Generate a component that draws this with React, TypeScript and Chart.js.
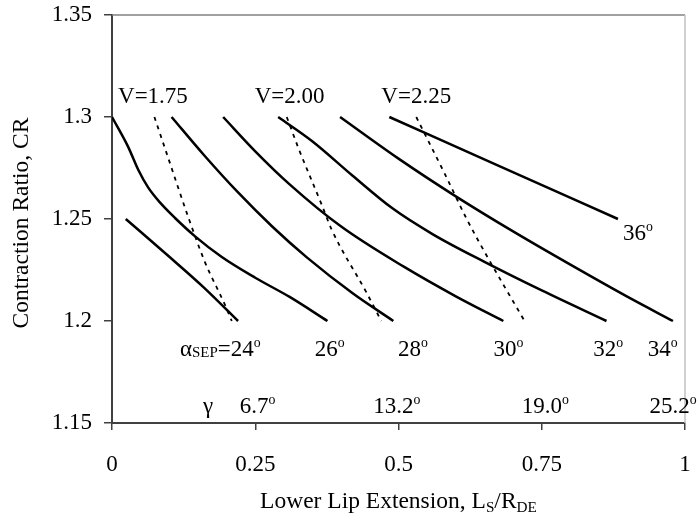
import React, { useEffect, useRef } from "react";
import { Chart, registerables } from "chart.js";

Chart.register(...registerables);

// Axis ticks
const xTicks = [0, 0.25, 0.5, 0.75, 1];
const yTicks = [1.15, 1.2, 1.25, 1.3, 1.35];

// Solid curves: alpha_SEP
const a24X = [0.024, 0.1, 0.16, 0.22];
const a24Y = [1.25, 1.2315, 1.2165, 1.2];
const a26X = [0, 0.028, 0.046, 0.063, 0.084, 0.11, 0.145, 0.191, 0.25, 0.31, 0.376];
const a26Y = [1.3, 1.2855, 1.274, 1.2655, 1.258, 1.2505, 1.2415, 1.2315, 1.2212, 1.2118, 1.2];
const a28X = [0.104, 0.16, 0.22, 0.28, 0.34, 0.42, 0.491];
const a28Y = [1.3, 1.2815, 1.263, 1.2462, 1.2312, 1.2136, 1.2];
const a30X = [0.194, 0.25, 0.31, 0.4, 0.51, 0.6, 0.683];
const a30Y = [1.3, 1.2832, 1.267, 1.2463, 1.2265, 1.2121, 1.2];
const a32X = [0.29, 0.35, 0.42, 0.49, 0.56, 0.65, 0.75, 0.863];
const a32Y = [1.3, 1.288, 1.2712, 1.2551, 1.2425, 1.229, 1.215, 1.2];
const a34X = [0.398, 0.5, 0.6, 0.7, 0.8, 0.9, 0.979];
const a34Y = [1.3, 1.2796, 1.2611, 1.2439, 1.2276, 1.2118, 1.2];
const a36X = [0.484, 0.677, 0.883];
const a36Y = [1.3, 1.2758, 1.25];

// Dashed curves: V
const v175X = [0.074, 0.098, 0.133, 0.162, 0.197, 0.209];
const v175Y = [1.3, 1.28, 1.251, 1.229, 1.208, 1.2];
const v200X = [0.305, 0.325, 0.366, 0.383, 0.444, 0.47];
const v200Y = [1.3, 1.285, 1.257, 1.245, 1.214, 1.2];
const v225X = [0.531, 0.581, 0.619, 0.654, 0.72];
const v225Y = [1.3, 1.272, 1.25, 1.232, 1.2];

// Text labels: [text, kind] segments, anchored at data coordinates
type Seg = [string, "n" | "sub" | "sup"];
const labelSegs: Seg[][] = [
  [["V=1.75", "n"]],
  [["V=2.00", "n"]],
  [["V=2.25", "n"]],
  [["36", "n"], ["o", "sup"]],
  [["\u03b1", "n"], ["SEP", "sub"], ["=24", "n"], ["o", "sup"]],
  [["26", "n"], ["o", "sup"]],
  [["28", "n"], ["o", "sup"]],
  [["30", "n"], ["o", "sup"]],
  [["32", "n"], ["o", "sup"]],
  [["34", "n"], ["o", "sup"]],
  [["\u03b3", "n"]],
  [["6.7", "n"], ["o", "sup"]],
  [["13.2", "n"], ["o", "sup"]],
  [["19.0", "n"], ["o", "sup"]],
  [["25.2", "n"], ["o", "sup"]],
];
const labelX = [0.0105, 0.249, 0.47, 0.892, 0.1186, 0.354, 0.499, 0.666, 0.84, 0.935, 0.159, 0.223, 0.456, 0.715, 0.938];
const labelY = [1.3069, 1.3069, 1.3069, 1.2397, 1.1828, 1.1828, 1.1828, 1.1828, 1.1828, 1.1828, 1.1549, 1.1549, 1.1549, 1.1549, 1.1549];

const xTitle: Seg[] = [["Lower Lip Extension, L", "n"], ["S", "sub"], ["/R", "n"], ["DE", "sub"]];
const yTitle = "Contraction Ratio, CR";

const FONT = '"Liberation Serif", "Times New Roman", serif';

function segWidth(ctx: CanvasRenderingContext2D, segs: Seg[], size: number) {
  let w = 0;
  for (const [t, k] of segs) {
    const fs = k === "n" ? size : k === "sub" ? size * 0.65 : size * 0.6;
    ctx.font = `${fs}px ${FONT}`;
    w += ctx.measureText(t).width;
  }
  return w;
}

function drawSegs(ctx: CanvasRenderingContext2D, segs: Seg[], x: number, y: number, size: number, subDrop: number) {
  let cx = x;
  for (const [t, k] of segs) {
    let fs = size;
    let dy = 0;
    if (k === "sub") {
      fs = size * 0.65;
      dy = subDrop;
    } else if (k === "sup") {
      fs = size * 0.6;
      dy = -size * 0.4;
    }
    ctx.font = `${fs}px ${FONT}`;
    ctx.fillText(t, cx, y + dy);
    cx += ctx.measureText(t).width;
  }
}

const textPlugin = {
  id: "textPlugin",
  afterDraw(chart: any) {
    const ctx: CanvasRenderingContext2D = chart.ctx;
    const xs = chart.scales.x;
    const ys = chart.scales.y;
    const area = chart.chartArea;
    ctx.save();
    // frame (top & right)
    ctx.lineWidth = 1.5;
    ctx.strokeStyle = "#808080";
    ctx.beginPath();
    ctx.moveTo(area.left, area.top);
    ctx.lineTo(area.right, area.top);
    ctx.stroke();
    ctx.strokeStyle = "#c0c0c0";
    ctx.beginPath();
    ctx.moveTo(area.right, area.top);
    ctx.lineTo(area.right, area.bottom);
    ctx.stroke();

    ctx.fillStyle = "#000";
    ctx.textAlign = "left";
    ctx.textBaseline = "alphabetic";
    labelSegs.forEach((segs, i) => {
      drawSegs(ctx, segs, xs.getPixelForValue(labelX[i]), ys.getPixelForValue(labelY[i]), 23, 1);
    });

    // x title
    const w = segWidth(ctx, xTitle, 23.5);
    const cx = (area.left + area.right) / 2;
    drawSegs(ctx, xTitle, cx - w / 2, 508, 23.5, 4);

    // y title
    ctx.translate(28, (area.top + area.bottom) / 2 + 4);
    ctx.rotate(-Math.PI / 2);
    ctx.textAlign = "center";
    ctx.font = `23.5px ${FONT}`;
    ctx.fillText(yTitle, 0, 0);
    ctx.restore();
  },
};

function ds(xs: number[], ys: number[], dashed: boolean) {
  return {
    data: xs.map((x, i) => ({ x, y: ys[i] })),
    showLine: true,
    borderColor: "#000",
    backgroundColor: "#000",
    borderWidth: dashed ? 1.8 : 2.5,
    borderDash: dashed ? [4, 5] : [],
    pointRadius: 0,
    cubicInterpolationMode: "monotone" as const,
    fill: false,
  };
}

function zeroPad(s: any) {
  s.paddingTop = 0;
  s.paddingBottom = 0;
  s.paddingLeft = 0;
  s.paddingRight = 0;
}

export default function App() {
  const ref = useRef<HTMLCanvasElement | null>(null);
  useEffect(() => {
    if (!ref.current) return;
    const tickFont = { family: FONT, size: 23 };
    const chart = new Chart(ref.current, {
      type: "scatter",
      data: {
        datasets: [
          ds(a24X, a24Y, false),
          ds(a26X, a26Y, false),
          ds(a28X, a28Y, false),
          ds(a30X, a30Y, false),
          ds(a32X, a32Y, false),
          ds(a34X, a34Y, false),
          ds(a36X, a36Y, false),
          ds(v175X, v175Y, true),
          ds(v200X, v200Y, true),
          ds(v225X, v225Y, true),
        ],
      },
      options: {
        animation: false,
        responsive: true,
        maintainAspectRatio: false,
        layout: { padding: { left: 0, right: 15, top: 15, bottom: 0 } },
        plugins: { legend: { display: false }, tooltip: { enabled: false } },
        scales: {
          x: {
            type: "linear",
            min: 0,
            max: 1,
            afterBuildTicks: (s: any) => {
              s.ticks = xTicks.map((v) => ({ value: v }));
            },
            afterFit: (s: any) => {
              s.height = 96;
              zeroPad(s);
            },
            ticks: {
              font: tickFont,
              color: "#000",
              padding: 21,
              maxRotation: 0,
              autoSkip: false,
              callback: (v: any) => String(v),
            },
            grid: { display: true, drawOnChartArea: false, drawTicks: true, tickLength: 7, color: "#404040", lineWidth: 1.5 },
            border: { display: true, color: "#404040", width: 2 },
          },
          y: {
            type: "linear",
            min: 1.15,
            max: 1.35,
            afterBuildTicks: (s: any) => {
              s.ticks = yTicks.map((v) => ({ value: v }));
            },
            afterFit: (s: any) => {
              s.width = 112;
              zeroPad(s);
            },
            ticks: {
              font: tickFont,
              color: "#000",
              padding: 12,
              autoSkip: false,
              callback: (v: any) => String(v),
            },
            grid: { display: true, drawOnChartArea: false, drawTicks: true, tickLength: 8, color: "#404040", lineWidth: 1.5 },
            border: { display: true, color: "#404040", width: 2 },
          },
        },
      },
      plugins: [textPlugin],
    } as any);
    return () => chart.destroy();
  }, []);
  return (
    <div style={{ position: "absolute", left: 0, top: 0, width: 700, height: 519 }}>
      <canvas ref={ref} />
    </div>
  );
}
